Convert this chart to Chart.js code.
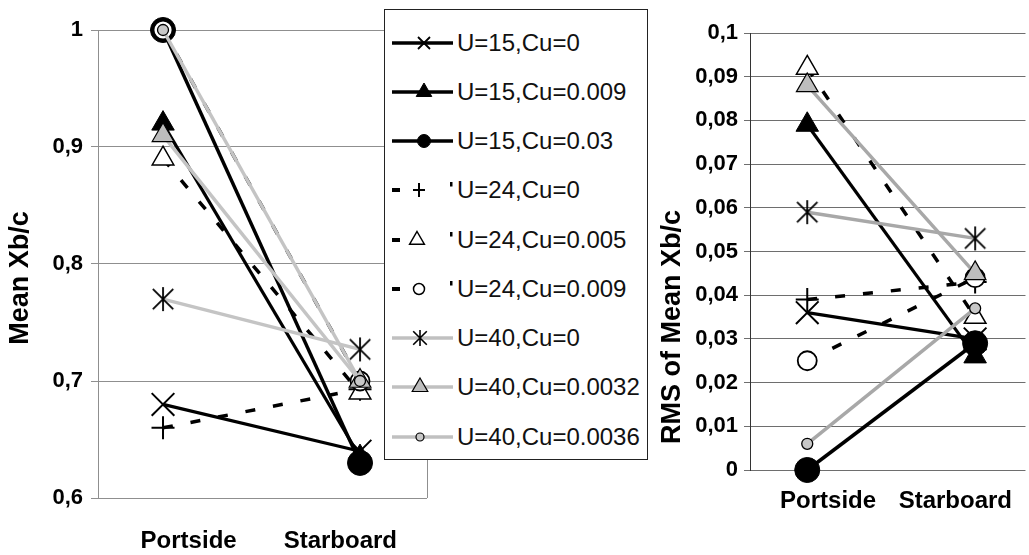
<!DOCTYPE html>
<html><head><meta charset="utf-8">
<script src="https://cdn.jsdelivr.net/npm/chart.js@4.4.1/dist/chart.umd.min.js"></script>
<style>
html,body{margin:0;padding:0;background:#fff;width:1029px;height:555px;overflow:hidden;position:relative;}
#wrap1{position:absolute;left:0;top:0;width:430px;height:555px;}
#wrap2{position:absolute;left:640px;top:0;width:389px;height:555px;}
#legend{position:absolute;left:384px;top:9px;width:262px;height:449px;border:1.5px solid #222;background:#fff;
  font-family:'Liberation Sans',Arial,sans-serif;font-size:24px;color:#111;}
.row{position:absolute;left:0;width:262px;height:30px;}
.row canvas{position:absolute;left:5px;top:0;}
.row span{position:absolute;left:72px;top:0;line-height:30px;white-space:nowrap;}
</style>
</head><body>
<div id="wrap1"><canvas id="c1" width="430" height="555"></canvas></div>
<div id="wrap2"><canvas id="c2" width="389" height="555"></canvas></div>
<div id="legend"></div>
<script>
// ---------- data ----------
const categories = ['Portside', 'Starboard'];
const seriesLabels = ['U=15,Cu=0','U=15,Cu=0.009','U=15,Cu=0.03','U=24,Cu=0','U=24,Cu=0.005','U=24,Cu=0.009','U=40,Cu=0','U=40,Cu=0.0032','U=40,Cu=0.0036'];

// Mean Xb/c (left panel)
const meanU15Cu0     = [0.68, 0.64];
const meanU15Cu0009  = [0.92, 0.635];
const meanU15Cu003   = [1.00, 0.63];
const meanU24Cu0     = [0.66, 0.693];
const meanU24Cu0005  = [0.89, 0.69];
const meanU24Cu0009  = [1.00, 0.70];
const meanU40Cu0     = [0.77, 0.727];
const meanU40Cu00032 = [0.91, 0.70];
const meanU40Cu00036 = [1.00, 0.70];

// RMS of Mean Xb/c (right panel)
const rmsU15Cu0     = [0.036, 0.030];
const rmsU15Cu0009  = [0.079, 0.026];
const rmsU15Cu003   = [0.000, 0.029];
const rmsU24Cu0     = [0.039, 0.043];
const rmsU24Cu0005  = [0.092, 0.035];
const rmsU24Cu0009  = [0.025, 0.044];
const rmsU40Cu0     = [0.059, 0.053];
const rmsU40Cu00032 = [0.088, 0.045];
const rmsU40Cu00036 = [0.006, 0.037];

const meanTicks = [0.6, 0.7, 0.8, 0.9, 1];
const rmsTicks = [0, 0.01, 0.02, 0.03, 0.04, 0.05, 0.06, 0.07, 0.08, 0.09, 0.1];

// ---------- styles ----------
const FONT = "'Liberation Sans', Arial, sans-serif";
Chart.defaults.font.family = FONT;

function makeAsterisk(size, arm, lw) {
  const c = document.createElement('canvas');
  c.width = size; c.height = size;
  const g = c.getContext('2d');
  const h = size / 2;
  g.strokeStyle = '#000'; g.lineWidth = lw;
  g.beginPath();
  g.moveTo(h, h - arm); g.lineTo(h, h + arm);
  const d = arm * 0.85;
  g.moveTo(h - d, h - d); g.lineTo(h + d, h + d);
  g.moveTo(h - d, h + d); g.lineTo(h + d, h - d);
  g.stroke();
  return c;
}
const asteriskImg = makeAsterisk(28, 12, 1.8);

const styles = [
  {kind:'black', dash:[], w:3.2, ps:'crossRot', r:16, fill:'#000', bw:2},
  {kind:'black', dash:[], w:3.2, ps:'triangle', r:13, fill:'#000', bw:1},
  {kind:'black', dash:[], w:3.5, ps:'circle', r:12.5, fill:'#000', bw:1},
  {kind:'dash', dash:[10,18], w:3.5, ps:'cross', r:11.5, fill:'#000', bw:2},
  {kind:'dash', dash:[10,18], w:3.5, ps:'triangle', r:12.5, fill:'#fff', bw:1.5},
  {kind:'dash', dash:[10,18], w:3.5, ps:'circle', r:9.5, fill:'#fff', bw:1.8},
  {kind:'grey', dash:[], w:3.5, ps:asteriskImg, r:12, fill:'#000', bw:2},
  {kind:'grey', dash:[], w:3.5, ps:'triangle', r:12.5, fill:'#bdbdbd', bw:1.2},
  {kind:'grey', dash:[], w:3.5, ps:'circle', r:5.5, fill:'#c8c8c8', bw:1.3}
];

function buildDatasets(valueArrays, grey) {
  return valueArrays.map((vals, i) => {
    const st = styles[i];
    return {
      label: seriesLabels[i],
      data: vals.map((v, k) => ({x: k, y: v})),
      borderColor: st.kind === 'grey' ? grey : '#000',
      borderWidth: st.w,
      borderDash: st.dash,
      borderCapStyle: 'butt',
      pointStyle: st.ps,
      pointRadius: st.r,
      pointHoverRadius: st.r,
      pointBackgroundColor: st.fill,
      pointBorderColor: '#000',
      pointBorderWidth: st.bw,
      order: 8 - i,
      clip: false,
      tension: 0,
      fill: false
    };
  });
}

function fmt(v) {
  const r = Math.round(v * 1000) / 1000;
  return String(r).replace('.', ',');
}

const yTitlePlugin = {
  id: 'yTitle',
  afterDraw(chart, args, opts) {
    if (!opts || !opts.text) return;
    const ctx = chart.ctx;
    ctx.save();
    ctx.translate(opts.x, opts.y);
    ctx.rotate(-Math.PI / 2);
    ctx.font = 'bold 27px ' + FONT;
    ctx.fillStyle = '#000';
    ctx.textAlign = 'center';
    ctx.textBaseline = 'middle';
    ctx.fillText(opts.text, 0, 0);
    ctx.restore();
  }
};
const rightBorderPlugin = {
  id: 'rightBorder',
  beforeDatasetsDraw(chart, args, opts) {
    if (!opts || !opts.show) return;
    const a = chart.chartArea, ctx = chart.ctx;
    ctx.save();
    ctx.strokeStyle = opts.color; ctx.lineWidth = 1;
    ctx.beginPath();
    ctx.moveTo(Math.round(a.right) + 0.5, a.top);
    ctx.lineTo(Math.round(a.right) + 0.5, a.bottom);
    ctx.stroke();
    ctx.restore();
  }
};

function makeChart(canvasId, cfg) {
  return new Chart(document.getElementById(canvasId), {
    type: 'line',
    data: { datasets: cfg.datasets },
    options: {
      responsive: false,
      animation: false,
      events: [],
      layout: { autoPadding: false, padding: { top: cfg.top, right: cfg.right, left: 0, bottom: 0 } },
      plugins: {
        legend: { display: false },
        tooltip: { enabled: false },
        yTitle: { text: cfg.title, x: cfg.titleX, y: cfg.titleY },
        rightBorder: { show: cfg.rightBorder, color: cfg.gridColor }
      },
      scales: {
        x: {
          type: 'linear',
          min: cfg.xMin, max: cfg.xMax,
          afterBuildTicks: s => { s.ticks = cfg.labelPos.map(v => ({ value: v })); },
          afterFit: s => { s.height = cfg.xHeight; },
          grid: { display: false, drawTicks: false },
          border: { display: false },
          ticks: {
            padding: cfg.xPad,
            autoSkip: false, maxRotation: 0,
            color: '#000',
            font: { size: 24, weight: 'bold' },
            callback: (v, i) => categories[i]
          }
        },
        y: {
          min: cfg.yMin, max: cfg.yMax,
          afterBuildTicks: s => { s.ticks = cfg.yTicks.map(v => ({ value: v })); },
          afterFit: s => { s.width = cfg.yWidth; },
          grid: { color: cfg.gridColor, lineWidth: 1, drawTicks: true, tickLength: cfg.tickLen, tickColor: cfg.gridColor },
          border: { color: cfg.axisColor, width: 1 },
          ticks: {
            padding: cfg.yPad,
            color: '#000',
            font: { size: 22, weight: 'bold' },
            callback: v => fmt(v)
          }
        }
      }
    },
    plugins: [yTitlePlugin, rightBorderPlugin]
  });
}

makeChart('c1', {
  datasets: buildDatasets([meanU15Cu0, meanU15Cu0009, meanU15Cu003, meanU24Cu0, meanU24Cu0005, meanU24Cu0009, meanU40Cu0, meanU40Cu00032, meanU40Cu00036], '#c4c4c4'),
  top: 30, right: 3, xHeight: 57, yWidth: 98,
  xMin: -0.33, xMax: 1.34, labelPos: [0.13, 0.9], xPad: 29,
  yMin: 0.6, yMax: 1, yTicks: meanTicks, yPad: 8, tickLen: 7,
  gridColor: '#8f8f8f', axisColor: '#8f8f8f', rightBorder: true,
  title: 'Mean Xb/c', titleX: 21, titleY: 278
});

makeChart('c2', {
  datasets: buildDatasets([rmsU15Cu0, rmsU15Cu0009, rmsU15Cu003, rmsU24Cu0, rmsU24Cu0005, rmsU24Cu0009, rmsU40Cu0, rmsU40Cu00032, rmsU40Cu00036], '#a8a8a8'),
  top: 33, right: 0, xHeight: 85, yWidth: 110,
  xMin: -0.341, xMax: 1.3, labelPos: [0.124, 0.882], xPad: 17,
  yMin: 0, yMax: 0.1, yTicks: rmsTicks, yPad: 6, tickLen: 6,
  gridColor: '#6e6e6e', axisColor: '#333', rightBorder: false,
  title: 'RMS of Mean Xb/c', titleX: 33, titleY: 327
});

// ---------- legend (HTML) ----------
function drawLegendMarker(g, kind, x, y) {
  g.save();
  g.strokeStyle = '#000'; g.fillStyle = '#000';
  g.setLineDash([]);
  const tri = (r, fill, lw) => {
    g.beginPath();
    g.moveTo(x, y - r); g.lineTo(x + r * 0.866, y + r * 0.5); g.lineTo(x - r * 0.866, y + r * 0.5); g.closePath();
    g.fillStyle = fill; g.fill(); g.lineWidth = lw; g.stroke();
  };
  const circ = (r, fill, lw) => {
    g.beginPath(); g.arc(x, y, r, 0, Math.PI * 2);
    g.fillStyle = fill; g.fill(); g.lineWidth = lw; g.stroke();
  };
  if (kind === 0) { g.lineWidth = 1.8; g.beginPath(); g.moveTo(x-6,y-6); g.lineTo(x+6,y+6); g.moveTo(x-6,y+6); g.lineTo(x+6,y-6); g.stroke(); }
  if (kind === 1) tri(9, '#000', 1);
  if (kind === 2) circ(6.5, '#000', 1);
  if (kind === 3) { g.lineWidth = 2; g.beginPath(); g.moveTo(x-6,y); g.lineTo(x+6,y); g.moveTo(x,y-7); g.lineTo(x,y+7); g.stroke(); }
  if (kind === 4) tri(8.5, '#fff', 1.5);
  if (kind === 5) circ(5.5, '#fff', 1.5);
  if (kind === 6) g.drawImage(makeAsterisk(20, 8, 1.6), x - 10, y - 10);
  if (kind === 7) tri(9, '#bdbdbd', 1.2);
  if (kind === 8) circ(4, '#c8c8c8', 1.2);
  g.restore();
}

const legend = document.getElementById('legend');
seriesLabels.forEach((name, i) => {
  const center = 43 + 49.25 * i;        // page y of row centre
  const row = document.createElement('div');
  row.className = 'row';
  row.style.top = (center - 15 - 10.5) + 'px';
  const cv = document.createElement('canvas');
  cv.width = 66; cv.height = 30;
  const g = cv.getContext('2d');
  const st = styles[i];
  const cy = 15;
  let mx = 33;
  if (st.kind === 'black' || st.kind === 'grey') {
    g.strokeStyle = st.kind === 'grey' ? '#c0c0c0' : '#000';
    g.lineWidth = 3.5;
    g.beginPath(); g.moveTo(2, cy); g.lineTo(63, cy); g.stroke();
    mx = st.kind === 'grey' ? 30 : 34;
  } else {
    g.fillStyle = '#000';
    g.fillRect(2, cy - 2, 8, 4);
    g.fillRect(60, cy - 8, 2.5, 4.5);
    mx = i === 4 ? 27 : 29;
  }
  drawLegendMarker(g, i, mx, cy);
  const sp = document.createElement('span');
  sp.textContent = name;
  row.appendChild(cv); row.appendChild(sp);
  legend.appendChild(row);
});
</script>
</body></html>
